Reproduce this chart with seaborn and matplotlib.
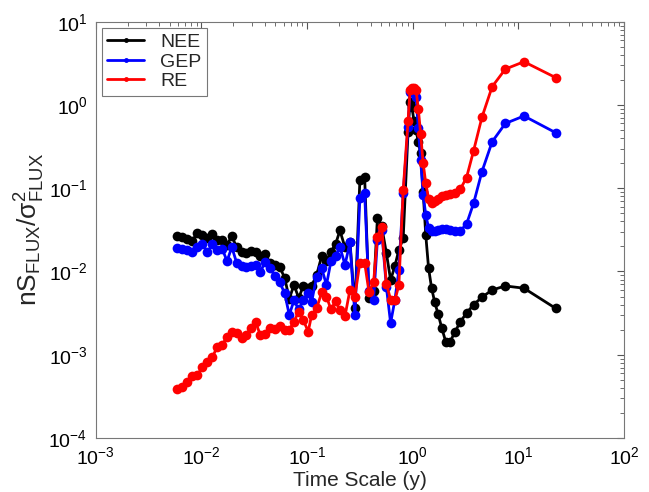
import numpy as np
import pandas as pd
import matplotlib
matplotlib.use("Agg")
import matplotlib.pyplot as plt
import seaborn as sns

# time scale (years), shared by all three spectra
time_scale = [
    0.00592, 0.00659, 0.00736, 0.00821, 0.00915, 0.0102, 0.0114, 0.0127, 0.0141, 0.0158,
    0.0175, 0.0194, 0.0216, 0.0240, 0.0266, 0.0294, 0.0327, 0.0361, 0.0400, 0.0446,
    0.0496, 0.0551, 0.0614, 0.0679, 0.0752, 0.0834, 0.0921, 0.1026,
    0.1105, 0.1233, 0.1374, 0.1527, 0.1683, 0.1866, 0.2046, 0.2286, 0.2547, 0.2838,
    0.3162, 0.3508, 0.3855, 0.4266, 0.4634, 0.5082, 0.5636, 0.6180, 0.6792, 0.7396, 0.8128,
    0.904, 0.942, 0.983, 1.027, 1.076, 1.13, 1.189, 1.256, 1.329, 1.413,
    1.507, 1.614, 1.738, 1.883, 2.055, 2.26, 2.51, 2.83, 3.23, 3.77,
    4.52, 5.65, 7.53, 11.3, 22.6,
]

nee = [
    0.027, 0.026, 0.0245, 0.0235, 0.029, 0.0275, 0.025, 0.028, 0.024, 0.024,
    0.021, 0.0265, 0.0195, 0.0172, 0.0167, 0.0175, 0.0172, 0.0152, 0.0163, 0.0127,
    0.012, 0.0113, 0.0084, 0.0047, 0.0069, 0.0048, 0.0067, 0.0063,
    0.0067, 0.0091, 0.0152, 0.0135, 0.0173, 0.0214, 0.0311, 0.0195, 0.0229, 0.0036,
    0.126, 0.138, 0.0048, 0.0058, 0.044, 0.035, 0.0166, 0.0079, 0.0117, 0.0182, 0.025,
    0.48, 1.1, 0.95, 0.65, 0.50, 0.36, 0.263, 0.091, 0.0275, 0.011,
    0.0064, 0.0043, 0.0031, 0.0021, 0.00143, 0.00143, 0.00188, 0.0025, 0.00316, 0.0040,
    0.0049, 0.0060, 0.0067, 0.0063, 0.0036,
]

gep = [
    0.019, 0.0185, 0.0182, 0.0173, 0.0197, 0.0216, 0.0170, 0.0212, 0.0182, 0.0185,
    0.0133, 0.0197, 0.0126, 0.0115, 0.0113, 0.0115, 0.0121, 0.0098, 0.0130, 0.0109,
    0.0089, 0.0074, 0.0055, 0.0030, 0.0045, 0.0035, 0.0045, 0.0055,
    0.0043, 0.0087, 0.011, 0.0069, 0.0132, 0.0154, 0.0199, 0.012, 0.0223, 0.0030,
    0.0759, 0.0871, 0.0058, 0.0046, 0.0239, 0.0316, 0.0065, 0.0024, 0.0046, 0.0104, 0.087,
    0.55, 1.45, 1.45, 1.39, 1.25, 0.525, 0.22, 0.083, 0.048, 0.0334,
    0.031, 0.031, 0.0316, 0.0325, 0.0325, 0.0316, 0.031, 0.031, 0.037, 0.066,
    0.158, 0.362, 0.60, 0.738, 0.464,
]

re = [
    0.000387, 0.000408, 0.000469, 0.000558, 0.000569, 0.00071, 0.00082, 0.00094, 0.00123, 0.00132,
    0.00165, 0.0019, 0.00183, 0.0016, 0.00172, 0.0021, 0.00244, 0.00173, 0.00178, 0.00208,
    0.00203, 0.00222, 0.00199, 0.00199, 0.0025, 0.0033, 0.0026, 0.0019,
    0.0030, 0.0036, 0.0056, 0.0050, 0.0035, 0.0044, 0.0034, 0.0029, 0.0060, 0.0050,
    0.0128, 0.0128, 0.0057, 0.0074, 0.0262, 0.0346, 0.0071, 0.0046, 0.0045, 0.0069, 0.094,
    0.65, 1.5, 1.6, 1.6, 1.5, 0.9, 0.45, 0.2, 0.115, 0.075,
    0.066, 0.07, 0.075, 0.08, 0.083, 0.086, 0.088, 0.098, 0.134, 0.282,
    0.711, 1.66, 2.7, 3.31, 2.13,
]

series = {"NEE": nee, "GEP": gep, "RE": re}
colors = {"NEE": "#000000", "GEP": "#0000FF", "RE": "#FF0000"}

df = pd.concat(
    [pd.DataFrame({"t": time_scale, "v": vals, "flux": name}) for name, vals in series.items()],
    ignore_index=True,
)

sns.set_theme(style="white")
plt.rcParams["font.family"] = ["Liberation Sans", "DejaVu Sans"]
plt.rcParams["mathtext.fontset"] = "custom"
plt.rcParams["mathtext.rm"] = "Liberation Sans"
plt.rcParams["mathtext.it"] = "Liberation Sans:italic"
plt.rcParams["mathtext.sf"] = "Liberation Sans"

fig = plt.figure(figsize=(6.49, 4.92), dpi=100)
ax = fig.add_axes([0.1475, 0.1098, 0.814, 0.846])

for name in series:
    sub = df[df["flux"] == name]
    sns.lineplot(data=sub, x="t", y="v", ax=ax, color=colors[name], label=name,
                 marker="o", markersize=7, markeredgewidth=0, linewidth=2,
                 sort=False, estimator=None)

ax.set_xscale("log")
ax.set_yscale("log")
ax.set_xlim(1e-3, 1e2)
ax.set_ylim(1e-4, 1e1)

ax.set_xlabel("Time Scale (y)", fontsize=15, labelpad=2)
ax.set_ylabel(r"$\mathrm{nS_{FLUX}/\sigma^2_{FLUX}}$", fontsize=19, labelpad=1)

ax.tick_params(which="both", direction="in", top=True, right=True,
               colors="#555555", labelcolor="black")
ax.tick_params(which="major", length=5, width=0.8, labelsize=14, pad=6)
ax.tick_params(which="minor", length=3, width=0.6)
ax.xaxis.set_minor_locator(matplotlib.ticker.LogLocator(base=10, subs=np.arange(2, 10), numticks=20))
ax.yaxis.set_minor_locator(matplotlib.ticker.LogLocator(base=10, subs=np.arange(2, 10), numticks=20))
ax.xaxis.set_minor_formatter(matplotlib.ticker.NullFormatter())
ax.yaxis.set_minor_formatter(matplotlib.ticker.NullFormatter())
for sp in ax.spines.values():
    sp.set_color("#777777")
    sp.set_linewidth(0.8)

leg = ax.legend(loc="upper left", fontsize=14, markerscale=0.5, handlelength=1.9,
                fancybox=False, framealpha=1, edgecolor="#777777",
                borderaxespad=0.3, labelspacing=0.1, handletextpad=0.8,
                borderpad=0.3)
leg.get_frame().set_linewidth(0.8)

fig.savefig("out.png", dpi=100)
